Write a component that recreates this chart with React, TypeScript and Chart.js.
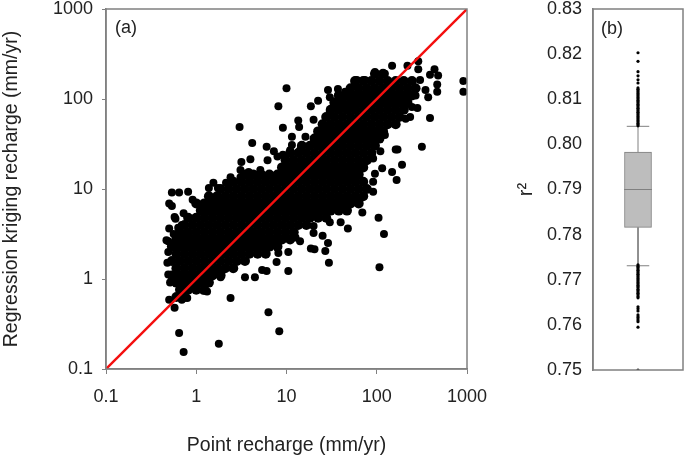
import React, { useEffect, useRef } from "react";
import { Chart, registerables } from "chart.js";

Chart.register(...registerables);

const FONT = "'Liberation Sans', Arial, sans-serif";
const INK = "#222222";
const FRAME = "#808080";

// Panel (a): values, as log10(mm/yr), since both axes are logarithmic.
// Rows of the dense cloud: [log10 regression kriging, [log10 point recharge, ...]]
type Row = [number, number[]];
const lowCloud: Row[] = [
  [-0.2, [-0.22, -0.13]],
  [-0.12, [-0.18, -0.09, 0, 0.09]],
  [-0.04, [-0.22, -0.13, -0.04, 0.05, 0.14]],
  [0.04, [-0.27, -0.18, -0.09, 0, 0.09, 0.18, 0.27]],
  [0.12, [-0.22, -0.13, -0.04, 0.05, 0.14, 0.23, 0.32, 0.41]],
  [0.2, [-0.27, -0.18, -0.09, 0, 0.09, 0.18, 0.27, 0.36, 0.45, 0.54]],
  [0.28, [-0.22, -0.13, -0.04, 0.05, 0.14, 0.23, 0.32, 0.41, 0.5, 0.59, 0.68, 0.77]],
  [0.36, [-0.27, -0.18, -0.09, 0, 0.09, 0.18, 0.27, 0.36, 0.45, 0.54, 0.63, 0.72, 0.81, 0.9]],
  [0.44, [-0.22, -0.13, -0.04, 0.05, 0.14, 0.23, 0.32, 0.41, 0.5, 0.59, 0.68, 0.77, 0.86, 0.95, 1.04]],
  [0.52, [-0.18, -0.09, 0, 0.09, 0.18, 0.27, 0.36, 0.45, 0.54, 0.63, 0.72, 0.81, 0.9, 0.99, 1.08]],
  [0.6, [-0.13, -0.04, 0.05, 0.14, 0.23, 0.32, 0.41, 0.5, 0.59, 0.68, 0.77, 0.86, 0.95, 1.04, 1.13, 1.22]],
  [0.68, [-0.09, 0, 0.09, 0.18, 0.27, 0.36, 0.45, 0.54, 0.63, 0.72, 0.81, 0.9, 0.99, 1.08, 1.17, 1.26, 1.35, 1.44]],
  [0.76, [0.05, 0.14, 0.23, 0.32, 0.41, 0.5, 0.59, 0.68, 0.77, 0.86, 0.95, 1.04, 1.13, 1.22, 1.31, 1.4, 1.49, 1.58, 1.67]],
  [0.84, [0, 0.09, 0.18, 0.27, 0.36, 0.45, 0.54, 0.63, 0.72, 0.81, 0.9, 0.99, 1.08, 1.17, 1.26, 1.35, 1.44, 1.53, 1.62, 1.71, 1.8]],
  [0.92, [0.14, 0.23, 0.32, 0.41, 0.5, 0.59, 0.68, 0.77, 0.86, 0.95, 1.04, 1.13, 1.22, 1.31, 1.4, 1.49, 1.58, 1.67, 1.76, 1.85]],
];
const midCloud: Row[] = [
  [1.0, [0.27, 0.36, 0.45, 0.54, 0.63, 0.72, 0.81, 0.9, 0.99, 1.08, 1.17, 1.26, 1.35, 1.44, 1.53, 1.62, 1.71, 1.8, 1.89]],
  [1.08, [0.41, 0.5, 0.59, 0.68, 0.77, 0.86, 0.95, 1.04, 1.13, 1.22, 1.31, 1.4, 1.49, 1.58, 1.67, 1.76, 1.85]],
  [1.16, [0.54, 0.63, 0.72, 0.81, 0.9, 0.99, 1.08, 1.17, 1.26, 1.35, 1.44, 1.53, 1.62, 1.71, 1.8]],
  [1.24, [0.95, 1.04, 1.13, 1.22, 1.31, 1.4, 1.49, 1.58, 1.67, 1.76, 1.85]],
  [1.32, [0.99, 1.08, 1.17, 1.26, 1.35, 1.44, 1.53, 1.62, 1.71, 1.8, 1.89]],
  [1.4, [1.04, 1.13, 1.22, 1.31, 1.4, 1.49, 1.58, 1.67, 1.76, 1.85, 1.94]],
  [1.48, [1.17, 1.26, 1.35, 1.44, 1.53, 1.62, 1.71, 1.8, 1.89, 1.98]],
  [1.56, [1.31, 1.4, 1.49, 1.58, 1.67, 1.76, 1.85, 1.94, 2.03]],
];
const highCloud: Row[] = [
  [1.64, [1.35, 1.44, 1.53, 1.62, 1.71, 1.8, 1.89, 1.98, 2.07]],
  [1.72, [1.4, 1.49, 1.58, 1.67, 1.76, 1.85, 1.94, 2.03, 2.12, 2.21]],
  [1.8, [1.44, 1.53, 1.62, 1.71, 1.8, 1.89, 1.98, 2.07, 2.16, 2.25]],
  [1.88, [1.49, 1.58, 1.67, 1.76, 1.85, 1.94, 2.03, 2.12, 2.21, 2.3]],
  [1.96, [1.53, 1.62, 1.71, 1.8, 1.89, 1.98, 2.07, 2.16, 2.25, 2.34]],
  [2.04, [1.58, 1.67, 1.76, 1.85, 1.94, 2.03, 2.12, 2.21, 2.3, 2.39]],
  [2.12, [1.71, 1.8, 1.89, 1.98, 2.07, 2.16, 2.25, 2.34, 2.43]],
  [2.2, [1.76, 1.85, 1.94, 2.03, 2.12, 2.21, 2.3, 2.39]],
  [2.28, [1.98, 2.07]],
];

// Individual points round the cloud: [log10 point recharge, log10 regression kriging]
type Pair = [number, number];
const lowOutliers: Pair[] = [
  [-0.19, -0.6], [-0.14, -0.81], [0.25, -0.72], [0.8, -0.37], [0.92, -0.58], [0.12, -0.14], [0.08, -0.13],
  [0.38, -0.21], [-0.24, -0.32], [-0.3, -0.23], [-0.16, -0.23], [-0.1, -0.21],
];
const leftEdge: Pair[] = [
  [-0.27, 0.96], [-0.19, 0.96], [-0.09, 0.97], [-0.3, 0.84], [-0.27, 0.81], [-0.24, 0.69], [-0.3, 0.56],
  [-0.2, 0.57], [-0.33, 0.43], [-0.31, 0.3], [-0.32, 0.18], [-0.31, 0.05], [-0.29, -0.04],
  [-0.04, 0.88], [-0.14, 0.73], [-0.23, 0.67], [-0.16, 0.6], [-0.31, 0.42], [-0.25, 0.5],
];
const lowerEdge: Pair[] = [
  [0.54, 0.02], [0.65, 0.02], [0.78, 0.09], [1.02, 0.09], [1.02, 0.3], [0.91, 0.29], [1.27, 0.34], [1.31, 0.33],
  [1.47, 0.18], [1.43, 0.31], [1.46, 0.4], [1.3, 0.51], [1.3, 0.59], [1.4, 0.48], [1.68, 0.56], [1.84, 0.74],
  [2.02, 0.68], [2.08, 0.5], [2.03, 0.13], [1.96, 0.97], [1.6, 0.63], [1.48, 0.63], [1.15, 0.42], [1.1, 0.46],
  [0.27, 0.02], [0.73, 0.1], [0.89, 0.19],
];
const upperRightEdge: Pair[] = [
  [2.22, 1.1], [2.28, 1.27], [2.17, 1.19], [2.06, 1.23], [1.98, 1.17], [1.96, 1.08], [2.5, 1.47], [2.23, 1.44],
  [2.21, 1.44], [2.59, 1.79], [2.37, 1.8], [2.32, 1.78], [2.45, 1.9], [2.57, 2.02], [2.67, 2.08], [2.67, 2.16],
  [2.68, 2.26], [2.64, 2.33], [2.59, 2.27], [2.46, 2.33], [2.46, 2.42], [2.34, 2.37], [2.17, 2.37], [2.09, 2.28],
  [1.98, 2.3], [2.96, 2.2], [2.96, 2.08], [1.78, 2.21], [2.48, 2.21], [2.54, 2.1], [2.43, 2.04], [2.39, 1.91],
  [2.09, 1.6], [2.04, 1.42], [1.96, 1.34],
];
const upperLeftEdge: Pair[] = [
  [1.0, 2.12], [0.91, 1.92], [0.48, 1.69], [0.62, 1.51], [0.96, 1.68], [0.78, 1.47], [0.86, 1.42], [1.27, 1.92],
  [1.35, 1.98], [1.46, 2.1], [1.57, 2.11], [1.48, 2.02], [1.13, 1.76], [1.14, 1.69], [1.3, 1.77], [1.06, 1.58],
  [1.21, 1.58], [1.06, 1.49], [0.6, 1.33], [0.5, 1.3], [0.49, 1.21], [0.79, 1.32], [0.9, 1.36], [0.96, 1.38],
  [0.71, 1.21], [0.65, 1.16], [0.38, 1.13], [0.33, 1.07], [0.19, 1.07], [0.14, 1.01], [0.24, 1.01], [0.49, 1.13],
  [0.58, 1.19], [1.41, 1.71], [1.33, 1.57], [1.15, 1.43], [1.04, 1.43], [1.48, 1.86], [1.54, 1.93], [1.65, 2.08],
  [1.76, 2.16], [1.87, 2.21],
];

const oneToOne = [0.1, 1000];
const logTicks = [0.1, 1, 10, 100, 1000];

// Panel (b)
const boxQ1 = 0.7816;
const boxMedian = 0.79;
const boxQ3 = 0.7983;
const whiskerLow = 0.7731;
const whiskerHigh = 0.804;
const outliersHigh = [
  0.8041, 0.8044, 0.8047, 0.805, 0.8053, 0.8056, 0.8059, 0.8062, 0.8065, 0.8068, 0.8071, 0.8074, 0.8077, 0.808,
  0.8083, 0.8086, 0.8089, 0.8092, 0.8095, 0.8098, 0.8101, 0.8104, 0.8107, 0.811, 0.8113, 0.8116, 0.8119, 0.8122,
  0.8125, 0.8136, 0.8143, 0.8152, 0.8161, 0.8184, 0.8203,
];
const outliersLow = [
  0.7733, 0.773, 0.7727, 0.7724, 0.7721, 0.7718, 0.7715, 0.7712, 0.7709, 0.7706, 0.7703, 0.77, 0.7697, 0.7694,
  0.7691, 0.7688, 0.7685, 0.7682, 0.7679, 0.7676, 0.7673, 0.767, 0.7667, 0.7663, 0.766, 0.764, 0.7636, 0.7631,
  0.7622, 0.7618, 0.7615, 0.7611, 0.7607, 0.7595, 0.75,
];

const toPoint = ([u, v]: Pair) => ({ x: 10 ** u, y: 10 ** v });
const rowsToPoints = (rows: Row[]) => rows.flatMap(([v, us]) => us.map((u) => toPoint([u, v])));

const framePlugin = (label: string, labelX: number, labelY: number) => ({
  id: "frame",
  afterDatasetsDraw(chart: any) {
    const { ctx, chartArea: a } = chart;
    ctx.save();
    ctx.strokeStyle = FRAME;
    ctx.lineWidth = 1.5;
    ctx.strokeRect(a.left, a.top, a.right - a.left, a.bottom - a.top);
    ctx.fillStyle = INK;
    ctx.font = `18px ${FONT}`;
    ctx.textBaseline = "middle";
    ctx.fillText(label, labelX, labelY);
    ctx.restore();
  },
});

const clearXPadding = (s: any, height: number) => {
  s.height = height;
  s.paddingLeft = 0;
  s.paddingRight = 0;
};
const clearYPadding = (s: any, width: number) => {
  s.width = width;
  s.paddingTop = 0;
  s.paddingBottom = 0;
};

export default function App() {
  const refA = useRef<HTMLCanvasElement>(null);
  const refB = useRef<HTMLCanvasElement>(null);

  useEffect(() => {
    const dots = (data: { x: number; y: number }[], radius: number) => ({
      type: "scatter" as const,
      data,
      pointRadius: radius,
      pointHoverRadius: radius,
      pointBorderWidth: 0,
      backgroundColor: "#000",
    });
    const a = new Chart(refA.current!, {
      type: "scatter",
      data: {
        datasets: [
          dots(rowsToPoints(lowCloud), 5),
          dots(rowsToPoints(midCloud), 5),
          dots(rowsToPoints(highCloud), 5),
          dots(lowOutliers.map(toPoint), 4),
          dots(leftEdge.map(toPoint), 4),
          dots(lowerEdge.map(toPoint), 4),
          dots(upperRightEdge.map(toPoint), 4),
          dots(upperLeftEdge.map(toPoint), 4),
          {
            type: "line" as const,
            data: oneToOne.map((v) => ({ x: v, y: v })),
            borderColor: "#f40f0f",
            borderWidth: 2.4,
            pointRadius: 0,
            order: -1,
          },
        ] as any,
      },
      options: {
        responsive: false,
        animation: false,
        events: [],
        layout: { padding: { top: 9, right: 33, left: 0, bottom: 0 } },
        plugins: { legend: { display: false }, tooltip: { enabled: false } },
        scales: {
          x: {
            type: "logarithmic",
            min: 0.1,
            max: 1000,
            afterBuildTicks: (s: any) => {
              s.ticks = logTicks.map((value) => ({ value, major: true }));
            },
            afterFit: (s: any) => clearXPadding(s, 89),
            grid: { drawOnChartArea: false, color: FRAME, tickLength: 5 },
            border: { color: FRAME, width: 1.5 },
            ticks: {
              color: INK,
              font: { family: FONT, size: 18 },
              maxRotation: 0,
              autoSkip: false,
              padding: 12,
              callback: (v: any) => String(v),
            },
            title: {
              display: true,
              text: "Point recharge (mm/yr)",
              color: INK,
              font: { family: FONT, size: 19.5 },
              padding: { top: 0, bottom: 1 },
            },
          },
          y: {
            type: "logarithmic",
            min: 0.1,
            max: 1000,
            afterBuildTicks: (s: any) => {
              s.ticks = logTicks.map((value) => ({ value, major: true }));
            },
            afterFit: (s: any) => clearYPadding(s, 106),
            grid: { drawOnChartArea: false, color: FRAME, tickLength: 4 },
            border: { color: FRAME, width: 1.5 },
            ticks: {
              color: INK,
              font: { family: FONT, size: 18 },
              autoSkip: false,
              padding: 9,
              callback: (v: any) => String(v),
            },
            title: {
              display: true,
              text: "Regression kriging recharge (mm/yr)",
              color: INK,
              font: { family: FONT, size: 19.5 },
              padding: { top: 0, bottom: 0 },
            },
          },
        },
      },
      plugins: [framePlugin("(a)", 115, 28)],
    } as any);

    const b = new Chart(refB.current!, {
      type: "bar",
      data: {
        datasets: [
          {
            type: "bar" as const,
            data: [{ x: 0.5, y: [boxQ1, boxQ3] }],
            backgroundColor: "#bdbdbd",
            borderColor: "#7f7f7f",
            borderWidth: 1,
            borderSkipped: false,
            barThickness: 27,
            order: 3,
          },
          {
            type: "line" as const,
            data: [{ x: 0.345, y: boxMedian }, { x: 0.655, y: boxMedian }],
            borderColor: "#808080",
            borderWidth: 1,
            pointRadius: 0,
            order: 1,
          },
          {
            type: "line" as const,
            data: [{ x: 0.5, y: boxQ3 }, { x: 0.5, y: whiskerHigh }],
            borderColor: "#808080",
            borderWidth: 1,
            pointRadius: 0,
            order: 2,
          },
          {
            type: "line" as const,
            data: [{ x: 0.5, y: boxQ1 }, { x: 0.5, y: whiskerLow }],
            borderColor: "#808080",
            borderWidth: 1,
            pointRadius: 0,
            order: 2,
          },
          {
            type: "line" as const,
            data: [{ x: 0.375, y: whiskerHigh }, { x: 0.625, y: whiskerHigh }],
            borderColor: "#808080",
            borderWidth: 1,
            pointRadius: 0,
            order: 2,
          },
          {
            type: "line" as const,
            data: [{ x: 0.375, y: whiskerLow }, { x: 0.625, y: whiskerLow }],
            borderColor: "#808080",
            borderWidth: 1,
            pointRadius: 0,
            order: 2,
          },
          {
            ...dots(outliersHigh.concat(outliersLow).map((y) => ({ x: 0.5, y })), 1.6),
            order: 0,
          },
        ] as any,
      },
      options: {
        responsive: false,
        animation: false,
        events: [],
        layout: { padding: { top: 9, right: 2, left: 0, bottom: 0 } },
        plugins: { legend: { display: false }, tooltip: { enabled: false } },
        scales: {
          x: {
            type: "linear",
            min: 0,
            max: 1,
            offset: false,
            display: true,
            afterFit: (s: any) => clearXPadding(s, 88),
            grid: { display: false },
            border: { display: false },
            ticks: { display: false },
          },
          y: {
            type: "linear",
            min: 0.75,
            max: 0.83,
            afterFit: (s: any) => clearYPadding(s, 83),
            grid: { drawOnChartArea: false, drawTicks: false },
            border: { color: FRAME, width: 1.5 },
            ticks: {
              stepSize: 0.01,
              color: INK,
              font: { family: FONT, size: 18 },
              padding: 11,
              callback: (v: any) => Number(v).toFixed(2),
            },
            title: {
              display: true,
              text: "r²",
              color: INK,
              font: { family: FONT, size: 20 },
              padding: { top: 4, bottom: 0 },
            },
          },
        },
      },
      plugins: [framePlugin("(b)", 91, 29)],
    } as any);

    return () => {
      a.destroy();
      b.destroy();
    };
  }, []);

  return (
    <div style={{ position: "absolute", left: 0, top: 0, width: 685, height: 458, background: "#fff" }}>
      <canvas ref={refA} width={500} height={458} style={{ position: "absolute", left: 0, top: 0 }} />
      <canvas ref={refB} width={175} height={458} style={{ position: "absolute", left: 510, top: 0 }} />
    </div>
  );
}
